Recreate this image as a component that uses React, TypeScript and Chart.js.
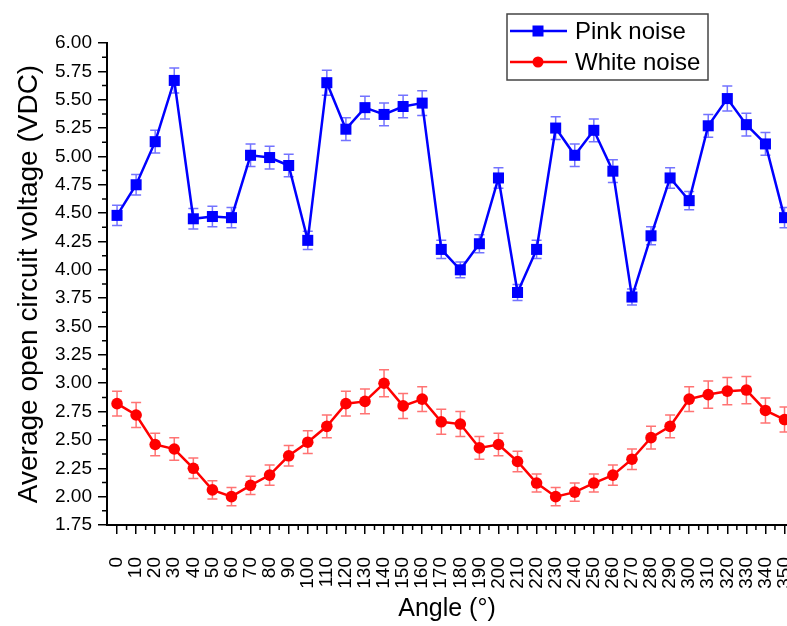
import React, { useEffect, useRef } from "react";
import { Chart, registerables } from "chart.js";

Chart.register(...registerables);

// Rotation angle of the sample (degrees)
const angles = [
  0, 10, 20, 30, 40, 50, 60, 70, 80, 90, 100, 110, 120, 130, 140, 150, 160, 170,
  180, 190, 200, 210, 220, 230, 240, 250, 260, 270, 280, 290, 300, 310, 320, 330, 340, 350,
];

// Average open circuit voltage under pink noise (VDC) and its error
const pinkNoise = [
  4.48, 4.75, 5.13, 5.67, 4.45, 4.47, 4.46, 5.01, 4.99, 4.92, 4.26, 5.65, 5.24, 5.43, 5.37, 5.44, 5.47, 4.18,
  4.0, 4.23, 4.81, 3.8, 4.18, 5.25, 5.01, 5.23, 4.87, 3.76, 4.3, 4.81, 4.61, 5.27, 5.51, 5.28, 5.11, 4.46,
];
const pinkError = [
  0.09, 0.09, 0.1, 0.11, 0.09, 0.09, 0.09, 0.1, 0.1, 0.1, 0.08, 0.11, 0.1, 0.1, 0.1, 0.1, 0.11, 0.08,
  0.07, 0.08, 0.09, 0.07, 0.08, 0.1, 0.1, 0.1, 0.1, 0.07, 0.08, 0.09, 0.08, 0.1, 0.11, 0.1, 0.1, 0.09,
];

// Average open circuit voltage under white noise (VDC) and its error
const whiteNoise = [
  2.82, 2.72, 2.46, 2.42, 2.25, 2.06, 2.0, 2.1, 2.19, 2.36, 2.48, 2.62, 2.82, 2.84, 3.0, 2.8, 2.86, 2.66,
  2.64, 2.43, 2.46, 2.31, 2.12, 2.0, 2.04, 2.12, 2.19, 2.33, 2.52, 2.62, 2.86, 2.9, 2.93, 2.94, 2.76, 2.68,
];
const whiteError = [
  0.11, 0.11, 0.1, 0.1, 0.09, 0.08, 0.08, 0.08, 0.09, 0.09, 0.1, 0.1, 0.11, 0.11, 0.12, 0.11, 0.11, 0.11,
  0.11, 0.1, 0.1, 0.09, 0.08, 0.08, 0.08, 0.08, 0.09, 0.09, 0.1, 0.1, 0.11, 0.12, 0.12, 0.12, 0.11, 0.11,
];

const yTicks = [1.75, 2.0, 2.25, 2.5, 2.75, 3.0, 3.25, 3.5, 3.75, 4.0, 4.25, 4.5, 4.75, 5.0, 5.25, 5.5, 5.75, 6.0];

const FONT = "'Liberation Sans', Arial, Helvetica, sans-serif";

const midpoints = (arr: number[]) => arr.slice(1).map((v, i) => (v + arr[i]) / 2);

// Vertical error bars with caps, drawn beneath the markers
const errorBarsPlugin = {
  id: "errorBars",
  beforeDatasetsDraw(chart: any) {
    const { ctx } = chart;
    const yScale = chart.scales.y;
    chart.data.datasets.forEach((ds: any, i: number) => {
      const meta = chart.getDatasetMeta(i);
      ctx.save();
      ctx.strokeStyle = ds.errorColor;
      ctx.lineWidth = 1.5;
      meta.data.forEach((pt: any, j: number) => {
        const v = ds.data[j].y;
        const e = ds.errors[j];
        const top = yScale.getPixelForValue(v + e);
        const bot = yScale.getPixelForValue(v - e);
        const x = pt.x;
        ctx.beginPath();
        ctx.moveTo(x, top);
        ctx.lineTo(x, bot);
        ctx.moveTo(x - 5, top);
        ctx.lineTo(x + 5, top);
        ctx.moveTo(x - 5, bot);
        ctx.lineTo(x + 5, bot);
        ctx.stroke();
      });
      ctx.restore();
    });
  },
};

// Short minor ticks halfway between the labelled ticks
const minorTicksPlugin = {
  id: "minorTicks",
  afterDraw(chart: any) {
    const { ctx, chartArea } = chart;
    const xs = chart.scales.x;
    const ys = chart.scales.y;
    ctx.save();
    ctx.strokeStyle = "#000";
    ctx.lineWidth = 1.5;
    ctx.beginPath();
    midpoints(angles).forEach((v) => {
      const px = xs.getPixelForValue(v);
      ctx.moveTo(px, chartArea.bottom);
      ctx.lineTo(px, chartArea.bottom + 5);
    });
    midpoints(yTicks).forEach((v) => {
      const py = ys.getPixelForValue(v);
      ctx.moveTo(chartArea.left, py);
      ctx.lineTo(chartArea.left - 5, py);
    });
    ctx.stroke();
    ctx.restore();
  },
};

// Framed legend with a line-and-marker sample for each series
const boxedLegendPlugin = {
  id: "boxedLegend",
  afterDraw(chart: any) {
    const { ctx } = chart;
    const left = 507;
    const top = 14;
    const width = 201;
    const height = 66;
    ctx.save();
    ctx.fillStyle = "#fff";
    ctx.fillRect(left, top, width, height);
    ctx.strokeStyle = "#444";
    ctx.lineWidth = 1.5;
    ctx.strokeRect(left, top, width, height);
    const rows = [31, 62];
    chart.data.datasets.forEach((ds: any, i: number) => {
      const y = rows[i];
      ctx.strokeStyle = ds.borderColor;
      ctx.lineWidth = 2.5;
      ctx.beginPath();
      ctx.moveTo(left + 3, y);
      ctx.lineTo(left + 60, y);
      ctx.stroke();
      ctx.fillStyle = ds.backgroundColor;
      if (ds.pointStyle === "rect") {
        ctx.fillRect(left + 31 - 5.5, y - 5.5, 11, 11);
      } else {
        ctx.beginPath();
        ctx.arc(left + 31, y, 5.5, 0, Math.PI * 2);
        ctx.fill();
      }
      ctx.fillStyle = "#000";
      ctx.font = `24px ${FONT}`;
      ctx.textBaseline = "middle";
      ctx.textAlign = "left";
      ctx.fillText(ds.label, left + 68, y + 1);
    });
    ctx.restore();
  },
};

export default function App() {
  const canvasRef = useRef<HTMLCanvasElement | null>(null);

  useEffect(() => {
    if (!canvasRef.current) return;
    Chart.defaults.font.family = FONT;
    Chart.defaults.color = "#000";

    const chart = new Chart(canvasRef.current, {
      type: "line",
      data: {
        datasets: [
          {
            label: "Pink noise",
            data: angles.map((a, i) => ({ x: a, y: pinkNoise[i] })),
            errors: pinkError,
            errorColor: "rgba(40, 40, 255, 0.65)",
            borderColor: "#0000ff",
            backgroundColor: "#0000ff",
            borderWidth: 2.5,
            pointStyle: "rect",
            pointRadius: 7.8,
            pointBorderWidth: 0,
            tension: 0,
          } as any,
          {
            label: "White noise",
            data: angles.map((a, i) => ({ x: a, y: whiteNoise[i] })),
            errors: whiteError,
            errorColor: "rgba(255, 40, 40, 0.65)",
            borderColor: "#ff0000",
            backgroundColor: "#ff0000",
            borderWidth: 2.5,
            pointStyle: "circle",
            pointRadius: 5.8,
            pointBorderWidth: 0,
            tension: 0,
          } as any,
        ],
      },
      options: {
        responsive: false,
        animation: false,
        events: [],
        layout: { autoPadding: false, padding: { top: 43, left: 0, right: 0, bottom: 0 } },
        plugins: {
          legend: { display: false },
          tooltip: { enabled: false },
        },
        scales: {
          x: {
            type: "linear",
            position: "bottom",
            min: -5.27,
            max: 351.3,
            afterBuildTicks: (s: any) => {
              s.ticks = angles.map((v) => ({ value: v }));
            },
            afterFit: (s: any) => {
              s.height = 101;
              s.paddingLeft = 0;
              s.paddingRight = 0;
            },
            ticks: {
              autoSkip: false,
              minRotation: 90,
              maxRotation: 90,
              padding: 23,
              color: "#000",
              font: { size: 19 },
              callback: (v: any) => String(v),
            },
            grid: {
              display: true,
              drawOnChartArea: false,
              drawTicks: true,
              tickLength: 9,
              color: "#000",
              lineWidth: 1.5,
            },
            border: { display: true, color: "#000", width: 2 },
            title: {
              display: true,
              text: "Angle (°)",
              color: "#000",
              font: { size: 25 },
              padding: { top: 0, bottom: 2 },
            },
          },
          y: {
            type: "linear",
            min: 1.75,
            max: 6.0,
            afterBuildTicks: (s: any) => {
              s.ticks = yTicks.map((v) => ({ value: v }));
            },
            afterFit: (s: any) => {
              s.width = 107;
              s.paddingTop = 0;
              s.paddingBottom = 0;
            },
            ticks: {
              padding: 6,
              color: "#000",
              font: { size: 19 },
              callback: (v: any) => Number(v).toFixed(2),
            },
            grid: {
              display: true,
              drawOnChartArea: false,
              drawTicks: true,
              tickLength: 9,
              color: "#000",
              lineWidth: 1.5,
            },
            border: { display: true, color: "#000", width: 2 },
            title: {
              display: true,
              text: "Average open circuit voltage (VDC)",
              color: "#000",
              font: { size: 28 },
              padding: { top: 12, bottom: 0 },
            },
          },
        },
      } as any,
      plugins: [errorBarsPlugin, minorTicksPlugin, boxedLegendPlugin],
    });

    return () => chart.destroy();
  }, []);

  return (
    <div
      style={{
        position: "fixed",
        left: 0,
        top: 0,
        width: 787,
        height: 626,
        background: "#fff",
      }}
    >
      <canvas ref={canvasRef} width={787} height={626} style={{ display: "block" }} />
    </div>
  );
}
